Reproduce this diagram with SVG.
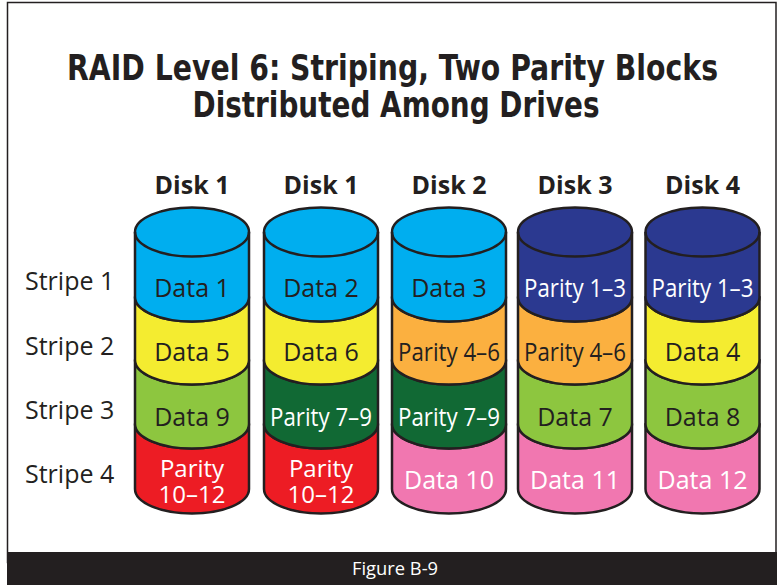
<svg xmlns="http://www.w3.org/2000/svg" xmlns:xlink="http://www.w3.org/1999/xlink" width="779" height="585" viewBox="0 0 779 585">
  <style>
    .frame { fill: #ffffff; stroke: #231f20; stroke-width: 1.5; }
    .title { font-family: "DejaVu Sans Condensed", "Liberation Sans Narrow", "Liberation Sans", sans-serif; font-weight: bold; font-size: 35px; fill: #231f20; text-anchor: middle; }
    .disk { font-family: "Open Sans", "Liberation Sans", sans-serif; font-weight: bold; font-size: 25px; fill: #231f20; text-anchor: middle; }
    .stripe { font-family: "Open Sans", "Liberation Sans", sans-serif; font-size: 25px; fill: #231f20; }
    .lbl { font-family: "Open Sans", "Liberation Sans", sans-serif; font-size: 25px; text-anchor: middle; }
    .two { font-size: 24px; }
    .dk { fill: #231f20; }
    .wt { fill: #ffffff; }
    .band { stroke: #231f20; stroke-width: 2.5; stroke-linejoin: round; }
    .rim { fill: none; stroke: #231f20; stroke-width: 2.5; }
    .blue { fill: #00aeef; }
    .navy { fill: #2b3990; }
    .yellow { fill: #f4ec30; }
    .lime { fill: #8dc63f; }
    .forest { fill: #116934; }
    .red { fill: #ed1c24; }
    .orange { fill: #fbb040; }
    .pink { fill: #f177b0; }
    .caption { font-family: "Open Sans", "Liberation Sans", sans-serif; font-size: 18px; fill: #ffffff; text-anchor: middle; }
  </style>
  <defs>
    <!-- cylinder segments, centred on x = 0 -->
    <path id="b1" d="M-57,232 A57,24.5 0 0 1 57,232 L57,297 A57,24.5 0 0 1 -57,297 Z"/>
    <path id="b2" d="M-57,297 A57,24.5 0 0 0 57,297 L57,360 A57,24.5 0 0 1 -57,360 Z"/>
    <path id="b3" d="M-57,360 A57,24.5 0 0 0 57,360 L57,424 A57,24.5 0 0 1 -57,424 Z"/>
    <path id="b4" d="M-57,424 A57,24.5 0 0 0 57,424 L57,489 A57,24.5 0 0 1 -57,489 Z"/>
    <path id="rim" d="M-57,232 A57,24.5 0 0 0 57,232"/>
  </defs>

  <!-- page frame and caption bar -->
  <rect class="frame" x="7.5" y="2.5" width="768.5" height="560"/>
  <rect x="7" y="552" width="770" height="33" fill="#231f20"/>
  <text class="caption" x="395" y="575" textLength="86" lengthAdjust="spacingAndGlyphs">Figure B-9</text>

  <!-- heading -->
  <text class="title" x="392.5" y="80" textLength="651" lengthAdjust="spacingAndGlyphs">RAID Level 6: Striping, Two Parity Blocks</text>
  <text class="title" x="396" y="117" textLength="407" lengthAdjust="spacingAndGlyphs">Distributed Among Drives</text>

  <!-- stripe row labels -->
  <g id="stripes">
    <text class="stripe" x="25" y="290">Stripe 1</text>
    <text class="stripe" x="25" y="355">Stripe 2</text>
    <text class="stripe" x="25" y="419">Stripe 3</text>
    <text class="stripe" x="25" y="483">Stripe 4</text>
  </g>

  <!-- drives -->
  <g id="disk-a" transform="translate(192,0)">
    <text class="disk" x="0" y="194">Disk 1</text>
    <use xlink:href="#b4" class="band red"/>
    <use xlink:href="#b3" class="band lime"/>
    <use xlink:href="#b2" class="band yellow"/>
    <use xlink:href="#b1" class="band blue"/>
    <use xlink:href="#rim" class="rim"/>
    <text class="lbl dk" x="0" y="297">Data 1</text>
    <text class="lbl dk" x="0" y="361">Data 5</text>
    <text class="lbl dk" x="0" y="426">Data 9</text>
    <text class="lbl two wt" x="0" y="477">Parity<tspan x="0" dy="26">10–12</tspan></text>
  </g>

  <g id="disk-b" transform="translate(321,0)">
    <text class="disk" x="0" y="194">Disk 1</text>
    <use xlink:href="#b4" class="band red"/>
    <use xlink:href="#b3" class="band forest"/>
    <use xlink:href="#b2" class="band yellow"/>
    <use xlink:href="#b1" class="band blue"/>
    <use xlink:href="#rim" class="rim"/>
    <text class="lbl dk" x="0" y="297">Data 2</text>
    <text class="lbl dk" x="0" y="361">Data 6</text>
    <text class="lbl wt" x="0" y="426" textLength="102" lengthAdjust="spacingAndGlyphs">Parity 7–9</text>
    <text class="lbl two wt" x="0" y="477">Parity<tspan x="0" dy="26">10–12</tspan></text>
  </g>

  <g id="disk-c" transform="translate(449,0)">
    <text class="disk" x="0" y="194">Disk 2</text>
    <use xlink:href="#b4" class="band pink"/>
    <use xlink:href="#b3" class="band forest"/>
    <use xlink:href="#b2" class="band orange"/>
    <use xlink:href="#b1" class="band blue"/>
    <use xlink:href="#rim" class="rim"/>
    <text class="lbl dk" x="0" y="297">Data 3</text>
    <text class="lbl dk" x="0" y="361" textLength="102" lengthAdjust="spacingAndGlyphs">Parity 4–6</text>
    <text class="lbl wt" x="0" y="426" textLength="102" lengthAdjust="spacingAndGlyphs">Parity 7–9</text>
    <text class="lbl wt" x="0" y="489">Data 10</text>
  </g>

  <g id="disk-d" transform="translate(575,0)">
    <text class="disk" x="0" y="194">Disk 3</text>
    <use xlink:href="#b4" class="band pink"/>
    <use xlink:href="#b3" class="band lime"/>
    <use xlink:href="#b2" class="band orange"/>
    <use xlink:href="#b1" class="band navy"/>
    <use xlink:href="#rim" class="rim"/>
    <text class="lbl wt" x="0" y="297" textLength="102" lengthAdjust="spacingAndGlyphs">Parity 1–3</text>
    <text class="lbl dk" x="0" y="361" textLength="102" lengthAdjust="spacingAndGlyphs">Parity 4–6</text>
    <text class="lbl dk" x="0" y="426">Data 7</text>
    <text class="lbl wt" x="0" y="489">Data 11</text>
  </g>

  <g id="disk-e" transform="translate(702.5,0)">
    <text class="disk" x="0" y="194">Disk 4</text>
    <use xlink:href="#b4" class="band pink"/>
    <use xlink:href="#b3" class="band lime"/>
    <use xlink:href="#b2" class="band yellow"/>
    <use xlink:href="#b1" class="band navy"/>
    <use xlink:href="#rim" class="rim"/>
    <text class="lbl wt" x="0" y="297" textLength="102" lengthAdjust="spacingAndGlyphs">Parity 1–3</text>
    <text class="lbl dk" x="0" y="361">Data 4</text>
    <text class="lbl dk" x="0" y="426">Data 8</text>
    <text class="lbl wt" x="0" y="489">Data 12</text>
  </g>
</svg>
